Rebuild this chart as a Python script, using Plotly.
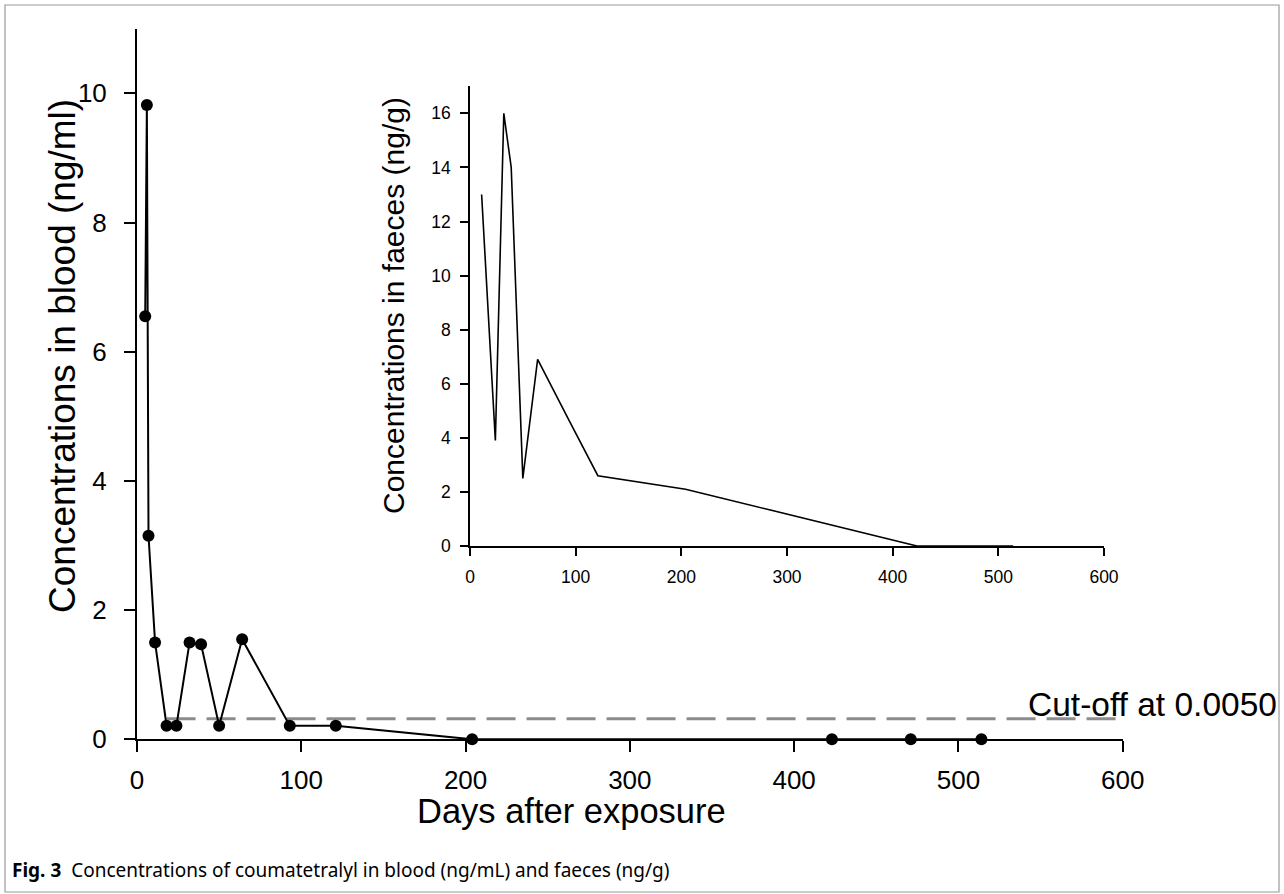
import plotly.graph_objects as go

# ---- data ----
blood_days = [5, 6, 7, 11, 18, 24, 32, 39, 50, 64, 93, 121, 204, 423, 471, 514]
blood_conc = [6.55, 9.82, 3.15, 1.50, 0.21, 0.21, 1.50, 1.47, 0.21, 1.55, 0.21, 0.21, 0, 0, 0, 0]

faeces_days = [11, 24, 32, 39, 50, 64, 93, 121, 204, 423, 514]
faeces_conc = [13.0, 3.9, 16.0, 14.0, 2.5, 6.9, 4.7, 2.6, 2.1, 0, 0]

cutoff_days = [18, 605]
cutoff_level = [0.32, 0.32]

main_xticks = [0, 100, 200, 300, 400, 500, 600]
main_yticks = [0, 2, 4, 6, 8, 10]
inset_xticks = [0, 100, 200, 300, 400, 500, 600]
inset_yticks = [0, 2, 4, 6, 8, 10, 12, 14, 16]

W, H = 1284, 894
def px(x): return x / W
def py(y): return 1 - y / H

FONT = "Liberation Sans"

fig = go.Figure()

fig.add_trace(go.Scatter(
    x=cutoff_days, y=cutoff_level, mode="lines",
    line=dict(color="#8c8c8c", width=3, dash="29px,11px"),
    xaxis="x", yaxis="y", cliponaxis=False, showlegend=False, hoverinfo="skip"))

fig.add_trace(go.Scatter(
    x=blood_days, y=blood_conc, mode="lines+markers",
    line=dict(color="black", width=2),
    marker=dict(color="black", size=12),
    xaxis="x", yaxis="y", cliponaxis=False, showlegend=False))

fig.add_trace(go.Scatter(
    x=faeces_days, y=faeces_conc, mode="lines",
    line=dict(color="black", width=1.6),
    xaxis="x2", yaxis="y2", cliponaxis=False, showlegend=False))

axis_common = dict(showline=True, linecolor="black", ticks="outside",
                   tickcolor="black", showgrid=False, zeroline=False,
                   automargin=False)

fig.update_layout(
    width=W, height=H,
    margin=dict(l=0, r=0, t=0, b=0, autoexpand=False),
    paper_bgcolor="white", plot_bgcolor="rgba(0,0,0,0)",
    font=dict(family=FONT, color="black"),
    xaxis=dict(domain=[px(137), px(1122.7)], range=[0, 600],
               tickvals=main_xticks, linewidth=2, tickwidth=2, ticklen=11,
               tickfont=dict(size=26), ticklabelstandoff=5,
               anchor="y", **axis_common),
    yaxis=dict(domain=[py(739.3), py(28.7)], range=[0, 11],
               tickvals=main_yticks, linewidth=2, tickwidth=2, ticklen=11,
               tickfont=dict(size=26), ticklabelstandoff=12,
               anchor="x", **axis_common),
    xaxis2=dict(domain=[px(470), px(1104)], range=[0, 600],
                tickvals=inset_xticks, linewidth=1.5, tickwidth=1.5, ticklen=8,
                tickfont=dict(size=17.5), ticklabelstandoff=6,
                anchor="y2", **axis_common),
    yaxis2=dict(domain=[py(546), py(86.3)], range=[0, 17],
                tickvals=inset_yticks, linewidth=1.5, tickwidth=1.5, ticklen=8,
                tickfont=dict(size=17.5), ticklabelstandoff=6,
                anchor="x2", **axis_common),
)

annots = [
    dict(text="Concentrations in blood (ng/ml)", x=px(62), y=py(356),
         textangle=-90, font=dict(size=37)),
    dict(text="Days after exposure", x=px(571), y=py(811), font=dict(size=34.5)),
    dict(text="Concentrations in faeces (ng/g)", x=px(393), y=py(306),
         textangle=-90, font=dict(size=30)),
    dict(text="Cut-off at 0.0050", x=px(1026), y=py(704), xanchor="left",
         font=dict(size=33.5)),
    dict(text="<b>Fig. 3</b>  Concentrations of coumatetralyl in blood (ng/mL) and faeces (ng/g)",
         x=px(10), y=py(870), xanchor="left",
         font=dict(size=19, family="Noto Sans")),
]
for a in annots:
    a.setdefault("xanchor", "center")
    a.update(xref="paper", yref="paper", yanchor="middle", showarrow=False)
fig.update_layout(annotations=annots)

fig.add_shape(type="rect", xref="paper", yref="paper",
              x0=px(5), x1=px(1279), y0=py(892), y1=py(5),
              line=dict(color="#9a9a9a", width=1.2), fillcolor="rgba(0,0,0,0)",
              layer="below")

fig.write_html("out.html", config={"displayModeBar": False},
               post_script="document.body.style.margin='0';document.body.style.overflow='hidden';")
